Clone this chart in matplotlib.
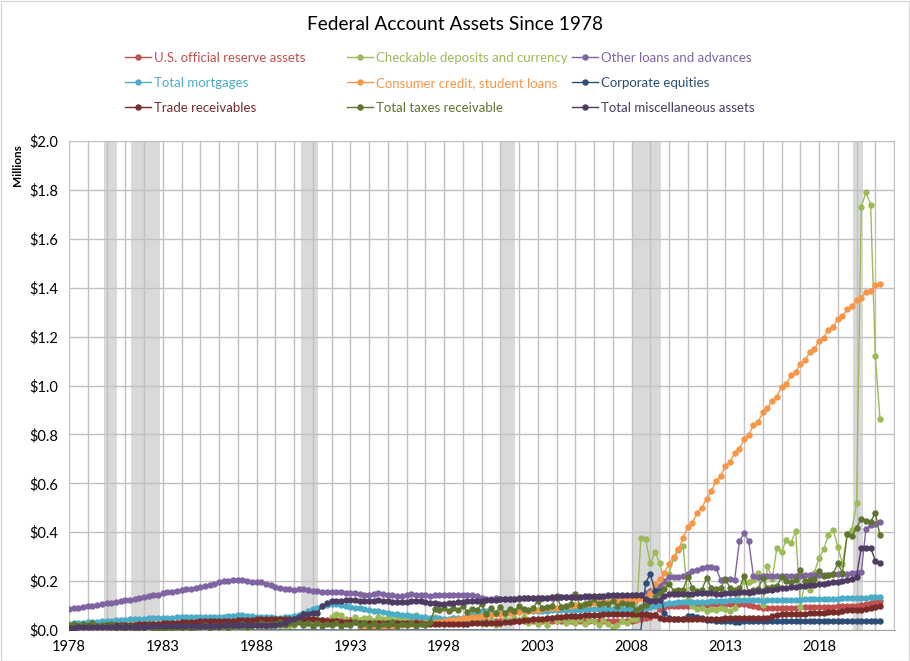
import numpy as np
import matplotlib
matplotlib.use("Agg")
import matplotlib.pyplot as plt
from matplotlib.lines import Line2D
from matplotlib.patches import Rectangle

plt.rcParams["font.family"] = ["Lato", "DejaVu Sans"]

first_year = 1978

# quarterly values in $ millions, one row per year (Q1..Q4), 1978Q1 - 2021Q2
reserve_assets = [
    .015, .016, .016, .017,  .017, .018, .018, .019,  .020, .020, .021, .021,
    .022, .022, .023, .023,  .024, .024, .025, .025,  .025, .026, .026, .027,
    .027, .027, .028, .028,  .029, .030, .031, .032,  .033, .034, .035, .036,
    .037, .037, .038, .039,  .038, .038, .037, .037,  .037, .038, .038, .039,
    .039, .040, .040, .041,  .041, .040, .040, .041,  .041, .040, .040, .039,
    .039, .038, .038, .037,  .037, .038, .038, .037,  .038, .038, .037, .037,
    .037, .036, .036, .035,  .034, .034, .033, .032,  .032, .033, .034, .036,
    .040, .043, .045, .044,  .040, .038, .037, .036,  .036, .037, .037, .036,
    .036, .037, .037, .037,  .038, .038, .037, .037,  .037, .037, .038, .038,
    .037, .037, .036, .036,  .036, .036, .036, .036,  .036, .036, .037, .037,
    .037, .040, .045, .050,  .052, .062, .085, .094,  .098, .098, .099, .100,
    .100, .101, .102, .102,  .103, .104, .105, .106,  .107, .108, .110, .108,
    .106, .104, .100, .095,  .090, .090, .090, .091,  .091, .092, .092, .092,
    .093, .093, .093, .094,  .094, .095, .095, .096,  .097, .097, .098, .098,
    .099, .103, .108, .110,  .115, .118,
]

checkable_deposits = [
    .020, .018, .022, .015,  .018, .022, .016, .020,  .024, .018, .020, .028,
    .022, .018, .025, .020,  .024, .016, .020, .018,  .022, .014, .030, .020,
    .018, .024, .015, .022,  .020, .012, .025, .018,  .022, .014, .028, .016,
    .020, .012, .024, .018,  .022, .015, .026, .018,  .020, .016, .030, .018,
    .020, .035, .025, .030,  .030, .045, .040, .030,  .055, .065, .060, .045,
    .030, .055, .040, .048,  .050, .038, .052, .045,  .048, .035, .055, .040,
    .045, .032, .060, .042,  .040, .030, .055, .045,  .038, .030, .048, .042,
    .040, .028, .045, .040,  .035, .025, .040, .020,  .030, .045, .035, .050,
    .040, .055, .030, .045,  .024, .040, .020, .050,  .035, .045, .030, .040,
    .030, .045, .025, .040,  .035, .020, .040, .025,  .010, .020, .035, .030,
    .045, .045, .378, .371,  .272, .317, .276, .194,  .230, .294, .327, .344,
    .127, .100, .086, .090,  .078, .085, .080, .090,  .085, .078, .088, .150,
    .200, .195, .205, .235,  .102, .262, .207, .337,  .320, .368, .355, .406,
    .094, .200, .164, .235,  .295, .330, .389, .410,  .340, .270, .393, .410,
    .520, 1.73, 1.79, 1.74,  1.12, .862,
]

other_loans = [
    .085, .088, .091, .094,  .097, .100, .103, .106,  .109, .112, .115, .118,
    .121, .124, .127, .131,  .135, .139, .142, .145,  .150, .154, .157, .160,
    .163, .166, .168, .171,  .174, .178, .183, .188,  .195, .200, .202, .204,
    .205, .203, .200, .198,  .197, .195, .190, .183,  .175, .170, .167, .166,
    .165, .166, .167, .165,  .160, .158, .157, .157,  .156, .155, .154, .153,
    .152, .150, .146, .143,  .142, .146, .150, .148,  .145, .142, .140, .138,
    .143, .146, .145, .143,  .142, .140, .142, .144,  .145, .145, .144, .144,
    .144, .143, .143, .140,  .130, .128, .128, .129,  .128, .128, .127, .128,
    .128, .129, .129, .130,  .130, .131, .131, .132,  .132, .133, .133, .134,
    .134, .135, .135, .136,  .136, .137, .137, .138,  .138, .139, .140, .140,
    .141, .142, .145, .150,  .158, .165, .180, .200,  .217, .218, .218, .220,
    .228, .240, .245, .255,  .258, .258, .255, .205,  .206, .207, .206, .362,
    .396, .362, .221, .218,  .220, .220, .221, .221,  .221, .222, .222, .222,
    .222, .223, .223, .224,  .224, .225, .226, .227,  .228, .229, .230, .232,
    .233, .236, .414, .428,  .435, .443,
]

total_mortgages = [
    .025, .027, .028, .030,  .031, .033, .034, .036,  .037, .038, .039, .040,
    .042, .044, .045, .046,  .047, .048, .049, .050,  .050, .051, .051, .052,
    .052, .052, .053, .053,  .053, .054, .054, .054,  .055, .055, .056, .057,
    .060, .060, .059, .058,  .054, .053, .052, .052,  .051, .051, .052, .053,
    .056, .062, .070, .078,  .085, .091, .097, .102,  .105, .105, .103, .100,
    .096, .092, .088, .085,  .082, .079, .076, .073,  .070, .067, .064, .062,
    .060, .058, .056, .054,  .052, .050, .049, .048,  .047, .047, .048, .048,
    .050, .055, .062, .070,  .078, .076, .073, .071,  .070, .070, .072, .074,
    .076, .077, .078, .078,  .078, .079, .079, .080,  .080, .081, .082, .082,
    .083, .083, .084, .085,  .085, .086, .086, .086,  .086, .086, .085, .085,
    .085, .086, .088, .092,  .096, .100, .104, .108,  .112, .112, .113, .113,
    .114, .114, .115, .115,  .116, .117, .118, .119,  .120, .121, .121, .122,
    .122, .122, .121, .121,  .120, .121, .121, .122,  .122, .123, .123, .124,
    .124, .125, .125, .126,  .126, .127, .127, .128,  .128, .129, .129, .130,
    .130, .131, .132, .133,  .134, .135,
]

nan = np.nan
consumer_credit = [
    nan, nan, nan, nan,  nan, nan, nan, nan,  nan, nan, nan, nan,
    nan, nan, nan, nan,  nan, nan, nan, nan,  nan, nan, nan, nan,
    nan, nan, nan, nan,  nan, nan, nan, nan,  nan, nan, nan, nan,
    nan, nan, nan, nan,  nan, nan, nan, nan,  nan, nan, nan, nan,
    nan, nan, nan, nan,  nan, nan, nan, nan,  nan, nan, nan, nan,
    nan, nan, .003, .005,  .007, .009, .011, .013,  .014, .015, .017, .019,
    .021, .024, .026, .028,  .028, .030, .032, .034,  .036, .039, .042, .045,
    .048, .050, .052, .054,  .058, .060, .062, .064,  .066, .068, .070, .072,
    .074, .076, .078, .080,  .083, .086, .088, .090,  .092, .095, .098, .100,
    .102, .104, .106, .108,  .110, .112, .114, .116,  .118, .119, .120, .121,
    .122, .124, .130, .135,  .153, .187, .207, .235,  .270, .300, .330, .375,
    .422, .439, .479, .500,  .537, .568, .608, .629,  .670, .686, .724, .740,
    .781, .798, .837, .850,  .891, .907, .938, .955,  .993, 1.005, 1.042, 1.054,
    1.088, 1.104, 1.135, 1.149,  1.183, 1.196, 1.229, 1.240,  1.272, 1.283, 1.313, 1.324,
    1.348, 1.359, 1.384, 1.385,  1.411, 1.416,
]

corporate_equities = [
    0, 0, 0, 0,  0, 0, 0, 0,  0, 0, 0, 0,
    0, 0, 0, 0,  0, 0, 0, 0,  0, 0, 0, 0,
    0, 0, 0, 0,  0, 0, 0, 0,  0, 0, 0, 0,
    0, 0, 0, 0,  0, 0, 0, 0,  0, 0, 0, 0,
    0, 0, 0, 0,  0, 0, 0, 0,  0, 0, 0, 0,
    0, 0, 0, 0,  0, 0, 0, 0,  0, 0, 0, 0,
    0, 0, 0, 0,  0, 0, 0, 0,  0, 0, 0, 0,
    0, 0, 0, 0,  0, 0, 0, 0,  0, 0, 0, 0,
    0, 0, 0, 0,  0, 0, 0, 0,  0, 0, 0, 0,
    0, 0, 0, 0,  0, 0, 0, 0,  0, 0, 0, 0,
    0, 0, 0, .194,  .228, .160, .160, .071,  .050, .045, .044, .044,
    .057, .057, .052, .048,  .040, .040, .038, .036,  .035, .035, .034, .034,
    .035, .035, .035, .035,  .035, .035, .035, .035,  .035, .035, .035, .035,
    .035, .035, .035, .035,  .035, .035, .035, .035,  .035, .035, .035, .035,
    .035, .035, .035, .035,  .035, .035,
]

trade_receivables = [
    .015, .015, .016, .016,  .017, .017, .018, .018,  .019, .019, .020, .020,
    .021, .022, .022, .023,  .024, .025, .025, .026,  .027, .028, .029, .030,
    .031, .032, .033, .034,  .035, .035, .036, .036,  .037, .037, .038, .038,
    .040, .041, .042, .042,  .043, .044, .045, .045,  .046, .046, .045, .045,
    .045, .046, .046, .045,  .044, .042, .040, .038,  .036, .035, .034, .033,
    .032, .031, .030, .030,  .029, .029, .028, .028,  .028, .028, .028, .027,
    .027, .027, .027, .027,  .026, .026, .026, .026,  .026, .026, .026, .026,
    .026, .026, .027, .027,  .028, .028, .029, .029,  .030, .032, .034, .036,
    .038, .040, .042, .043,  .045, .047, .049, .051,  .053, .055, .056, .057,
    .058, .059, .060, .061,  .062, .063, .064, .064,  .064, .065, .065, .065,
    .065, .065, .065, .064,  .063, .060, .050, .045,  .044, .044, .044, .045,
    .045, .045, .046, .046,  .046, .047, .047, .047,  .048, .048, .049, .050,
    .051, .051, .050, .050,  .050, .050, .058, .063,  .064, .065, .065, .066,
    .067, .067, .068, .069,  .070, .071, .072, .073,  .075, .078, .080, .081,
    .080, .082, .086, .090,  .095, .098,
]

taxes_receivable = [
    .022, .026, .018, .024,  .020, .028, .015, .022,  .018, .024, .010, .016,
    .010, .018, .004, .012,  .008, .015, .003, .010,  .006, .014, .004, .012,
    .010, .018, .006, .014,  .012, .020, .008, .016,  .014, .022, .010, .018,
    .016, .026, .012, .022,  .020, .030, .018, .026,  .024, .032, .020, .028,
    .026, .034, .022, .030,  .018, .028, .016, .024,  .020, .030, .018, .026,
    .022, .032, .020, .028,  .018, .028, .016, .024,  .020, .032, .018, .026,
    .020, .030, .018, .026,  .022, .032, .085, .080,  .091, .078, .090, .080,
    .098, .075, .085, .080,  .106, .065, .090, .070,  .095, .070, .085, .078,
    .100, .085, .080, .090,  .119, .090, .095, .100,  .139, .095, .100, .105,
    .146, .100, .108, .110,  .125, .105, .110, .108,  .120, .100, .110, .106,
    .106, .080, .095, .102,  .119, .135, .150, .166,  .190, .160, .162, .165,
    .217, .173, .160, .165,  .212, .173, .168, .170,  .210, .172, .165, .170,
    .221, .153, .165, .168,  .214, .170, .175, .180,  .216, .200, .195, .205,
    .246, .200, .205, .210,  .242, .220, .225, .230,  .272, .235, .391, .384,
    .418, .455, .445, .443,  .479, .387,
]

misc_assets = [
    .010, .010, .011, .011,  .011, .012, .012, .012,  .012, .013, .013, .013,
    .013, .014, .014, .014,  .014, .015, .015, .015,  .015, .016, .016, .016,
    .016, .017, .017, .017,  .017, .018, .018, .018,  .018, .019, .019, .019,
    .020, .020, .020, .021,  .021, .021, .022, .022,  .022, .023, .028, .040,
    .045, .055, .065, .066,  .068, .070, .100, .110,  .117, .119, .120, .121,
    .121, .122, .120, .118,  .117, .119, .121, .120,  .118, .116, .114, .113,
    .115, .117, .118, .117,  .115, .112, .110, .108,  .108, .110, .112, .113,
    .115, .117, .118, .119,  .120, .122, .123, .124,  .125, .126, .127, .128,
    .129, .130, .130, .131,  .131, .132, .132, .133,  .133, .134, .134, .135,
    .136, .137, .138, .139,  .140, .141, .141, .142,  .142, .143, .143, .143,
    .143, .143, .143, .125,  .120, .119, .122, .140,  .148, .148, .149, .149,
    .149, .149, .150, .150,  .150, .150, .149, .149,  .150, .151, .152, .154,
    .155, .156, .157, .158,  .160, .163, .165, .167,  .170, .172, .174, .176,
    .179, .181, .183, .185,  .188, .190, .192, .195,  .198, .201, .204, .210,
    .217, .337, .337, .337,  .283, .272,
]

series_names = [
    "U.S. official reserve assets", "Checkable deposits and currency", "Other loans and advances",
    "Total mortgages", "Consumer credit, student loans", "Corporate equities",
    "Trade receivables", "Total taxes receivable", "Total miscellaneous assets",
]
series_values = [
    reserve_assets, checkable_deposits, other_loans,
    total_mortgages, consumer_credit, corporate_equities,
    trade_receivables, taxes_receivable, misc_assets,
]
series_colors = [
    "#C0504D", "#9BBB59", "#8064A2",
    "#4BACC6", "#F79646", "#2C4D75",
    "#772C2A", "#5F7530", "#4D3B62",
]

# shaded recession periods (decimal years)
recessions = [(1979.87, 1980.57), (1981.33, 1982.83), (1990.37, 1991.30),
              (2001.06, 2001.77), (2008.06, 2009.55), (2019.83, 2020.33)]

W, H = 910, 661
fig = plt.figure(figsize=(W / 100, H / 100), dpi=100)
ax = fig.add_axes([69 / W, 1 - 630 / H, (895 - 69) / W, (630 - 141) / H])

for a, b in recessions:
    ax.axvspan(a, b, color="#D9D9D9", lw=0, zorder=0)

for k, (name, vals, col) in enumerate(zip(series_names, series_values, series_colors)):
    y = np.array(vals, dtype=float)
    x = first_year + np.arange(len(y)) / 4.0
    show = list(~(y == 0))  # Excel shows no markers on the empty (zero) stretch
    ax.plot(x, y, color=col, lw=1.0, marker="o", ms=3.6, mec=col, mfc=col,
            markevery=show, zorder=2 + k * 0.1)

ax.set_xlim(1978, 2022.05)
ax.set_ylim(0, 2.0)
years = np.arange(1978, 2023)
ax.set_xticks(years)
ax.set_xticklabels([str(yr) if (yr - 1978) % 5 == 0 and yr <= 2018 else "" for yr in years])
yt = np.arange(0, 2.01, 0.2)
ax.set_yticks(yt)
ax.set_yticklabels([f"${v:.1f}" for v in yt])
ax.tick_params(axis="both", length=0, labelsize=10.5, colors="black")
ax.tick_params(axis="x", pad=7)
ax.tick_params(axis="y", pad=8)
ax.set_axisbelow(True)
ax.grid(True, color="#C0C0C0", lw=1.0)
for s in ["top", "right", "left"]:
    ax.spines[s].set_visible(False)
ax.spines["bottom"].set_color("#A6A6A6")

fig.text(18 / W, 1 - 144 / H, "Millions", rotation=90, va="top", ha="center",
         fontsize=8.5, fontweight="bold")

fig.text(0.5, 1 - 25 / H, "Federal Account Assets Since 1978", ha="center", va="center",
         fontsize=13.8)

# legend: three fixed-position columns, filled row by row like Excel
col_x = [125, 347, 572]
for c in range(3):
    hs = [Line2D([], [], color=series_colors[r * 3 + c], lw=1.0, marker="o", ms=3.6)
          for r in range(3)]
    labels = [series_names[r * 3 + c] for r in range(3)]
    fig.legend(hs, labels, loc="upper left", bbox_to_anchor=(col_x[c] / W, 1 - 52 / H),
               frameon=False, fontsize=9.5, handlelength=1.95, handletextpad=0.25,
               labelspacing=0.98, borderpad=0, borderaxespad=0, numpoints=1,
               labelcolor="linecolor")

fig.add_artist(Rectangle((0.5 / W, 0.5 / H), 1 - 1.5 / W, 1 - 1.5 / H, transform=fig.transFigure,
                         fill=False, edgecolor="#D9D9D9", lw=1))

fig.savefig("out.png", dpi=100)
